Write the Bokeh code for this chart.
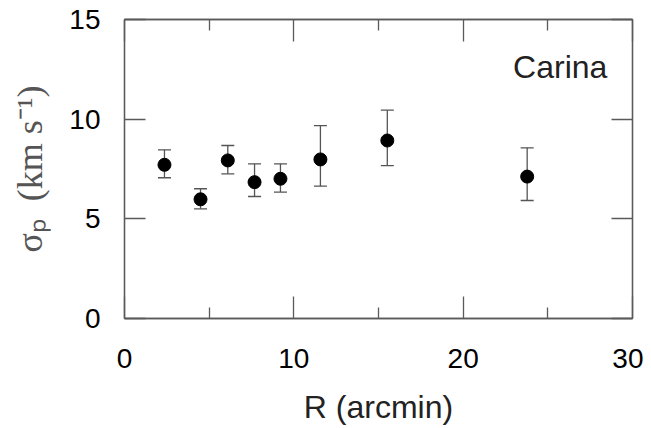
from bokeh.plotting import figure
from bokeh.models import (Range1d, FixedTicker, LinearAxis, Whisker, ColumnDataSource,
                          Label, TeeHead, CustomJSTickFormatter)
from bokeh.embed import file_html
from bokeh.resources import INLINE

# data
R_arcmin = [2.36, 4.49, 6.10, 7.68, 9.21, 11.57, 15.52, 23.78]
sigma_p = [7.71, 5.98, 7.93, 6.84, 7.01, 7.98, 8.93, 7.12]
sigma_hi = [8.46, 6.51, 8.68, 7.76, 7.76, 9.68, 10.45, 8.56]
sigma_lo = [7.06, 5.50, 7.26, 6.12, 6.34, 6.64, 7.67, 5.92]

x_major = [0, 10, 20, 30]
x_minor = [5, 15, 25]
y_major = [0, 5, 10, 15]

panel_name = "Carina"
panel_pos = (22.95, 12.6)

AXC = "#5a5a5a"
SANS = "Liberation Sans"

src = ColumnDataSource(dict(x=R_arcmin, y=sigma_p, hi=sigma_hi, lo=sigma_lo))

p = figure(width=643, height=427, output_backend="svg", toolbar_location=None,
           x_range=Range1d(0, 30), y_range=Range1d(0, 15),
           x_axis_location=None, y_axis_location=None,
           min_border_left=124, min_border_right=11, min_border_top=19, min_border_bottom=109)
p.grid.visible = False
p.outline_line_color = AXC
p.outline_line_width = 1.3
p.background_fill_color = "white"
p.border_fill_color = "white"


def make_axis(ticks, minor, tick_in, minor_in, labels):
    ax = LinearAxis(ticker=FixedTicker(ticks=ticks, minor_ticks=minor))
    ax.axis_line_color = AXC
    ax.axis_line_width = 1.3
    ax.major_tick_line_color = AXC
    ax.major_tick_line_width = 1.3
    ax.minor_tick_line_color = AXC
    ax.minor_tick_line_width = 1.3
    ax.major_tick_in = tick_in
    ax.major_tick_out = 0
    ax.minor_tick_in = minor_in
    ax.minor_tick_out = 0
    if labels:
        ax.major_label_text_font = SANS
        ax.major_label_text_font_size = "28px"
        ax.major_label_text_color = "black"
    else:
        ax.formatter = CustomJSTickFormatter(code="return ''")
        ax.major_label_text_font_size = "0px"
        ax.major_label_standoff = 0
    return ax


xb = make_axis(x_major, x_minor, 22, 11, True)
xb.axis_label = "R (arcmin)"
xb.axis_label_text_font = SANS
xb.axis_label_text_font_size = "32px"
xb.axis_label_text_font_style = "normal"
xb.axis_label_text_color = "#222222"
xb.major_label_standoff = 30
xb.axis_label_standoff = 18
p.add_layout(xb, "below")

xt = make_axis(x_major, x_minor, 22, 11, False)
p.add_layout(xt, "above")

yl = make_axis(y_major, [], 21, 0, True)
yl.axis_label = "σₚ\u2002(km s⁻¹)"
yl.axis_label_text_font = "Liberation Serif"
yl.axis_label_text_font_size = "36px"
yl.axis_label_text_font_style = "normal"
yl.axis_label_text_color = "#555555"
yl.major_label_standoff = 24
yl.axis_label_standoff = 16
p.add_layout(yl, "left")

yr = make_axis(y_major, [], 21, 0, False)
p.add_layout(yr, "right")

w = Whisker(source=src, base="x", upper="hi", lower="lo", dimension="height",
            line_color="#555555", line_width=1.3,
            upper_head=TeeHead(size=13, line_color="#555555", line_width=1.3),
            lower_head=TeeHead(size=13, line_color="#555555", line_width=1.3))
p.add_layout(w)

p.scatter("x", "y", source=src, size=13, marker="circle", fill_color="black", line_color="black")

lab = Label(x=panel_pos[0], y=panel_pos[1], text=panel_name, text_font=SANS,
            text_font_size="32px", text_color="#222222", text_baseline="middle")
p.add_layout(lab)

open("out.html", "w").write(file_html(p, INLINE))
